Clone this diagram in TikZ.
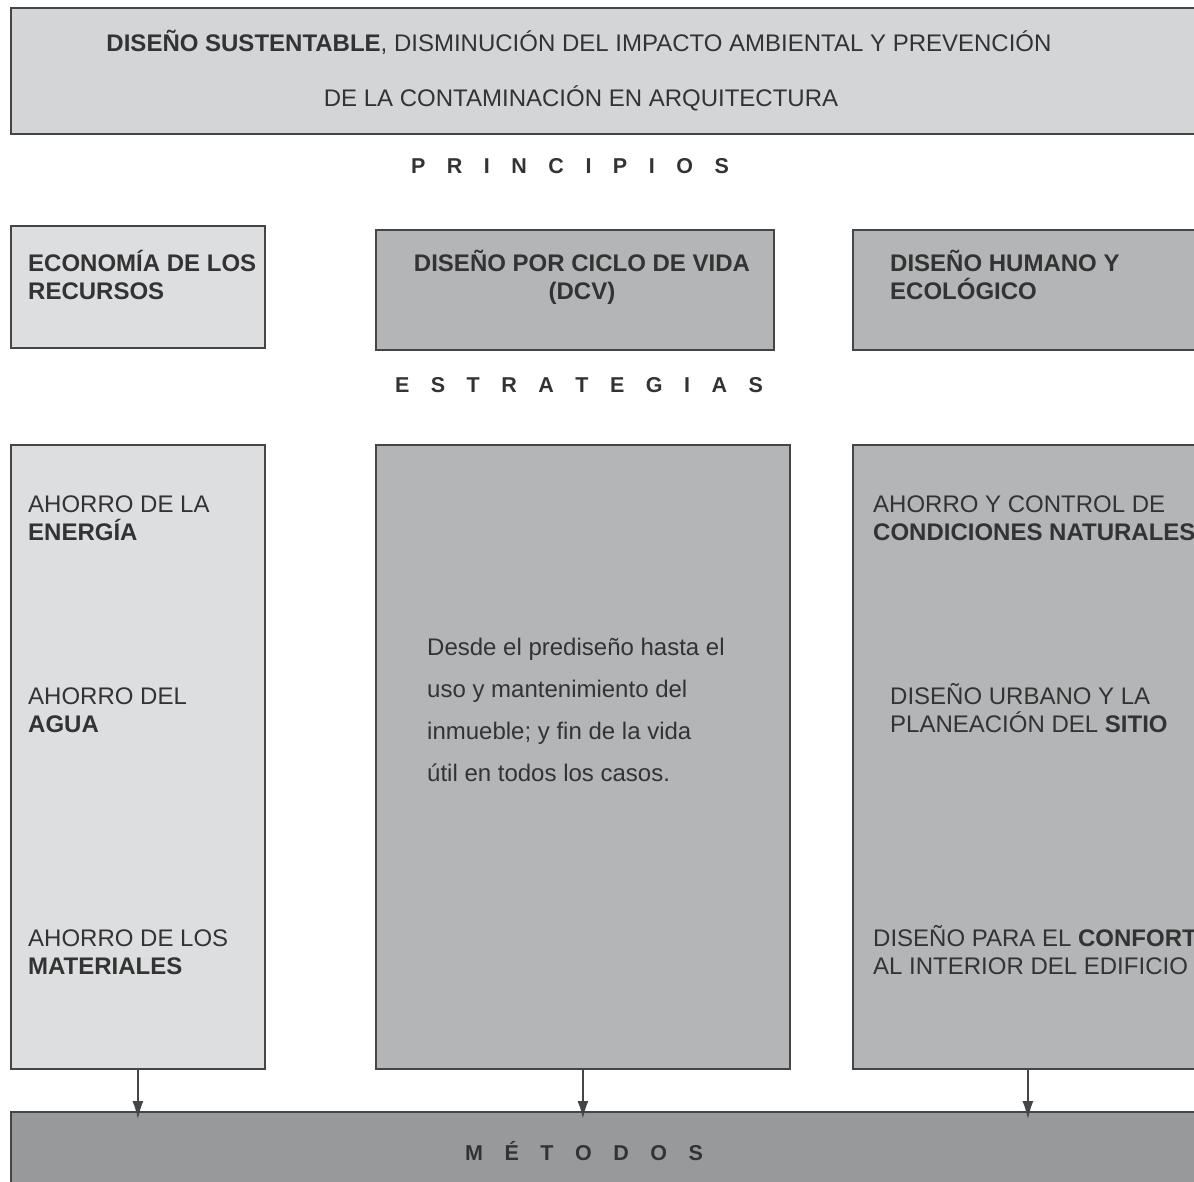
\documentclass[tikz,border=0pt]{standalone}
\usepackage{fontspec}
\setmainfont{Liberation Sans}
\usetikzlibrary{arrows.meta}
\definecolor{txt}{HTML}{333333}
\definecolor{edge}{HTML}{454545}
\definecolor{fillA}{HTML}{D4D5D7}
\definecolor{fillB}{HTML}{DDDEE0}
\definecolor{fillC}{HTML}{B4B5B7}
\definecolor{fillD}{HTML}{97999B}
\newcommand{\gp}{\hspace{21.5pt}}
\begin{document}
\begin{tikzpicture}[x=1pt,y=-1pt,
  panel/.style={draw=edge, line width=1.8pt, anchor=north west, inner sep=0pt},
  tl/.style={anchor=base west, inner sep=0pt, text=txt, font=\fontsize{24}{28}\selectfont},
  tc/.style={anchor=base, inner sep=0pt, text=txt, font=\fontsize{24}{28}\selectfont},
  ttl/.style={anchor=base, inner sep=0pt, text=txt, font=\fontsize{24}{28}\selectfont},
  spaced/.style={anchor=base, inner sep=0pt, text=txt, font=\fontsize{21.5}{25}\selectfont\bfseries},
  desc/.style={anchor=base west, inner sep=0pt, text=txt, font=\fontsize{24}{28}\selectfont},
  flow/.style={-{Latex[length=18pt,width=11pt]}, draw=edge, line width=1.4pt}]
\useasboundingbox (0,0) rectangle (1194,1182);
\clip (0,0) rectangle (1194,1182);
% boxes
\node[panel, fill=fillA, minimum width=1190pt, minimum height=126pt] (top) at (10,7) {};
\node[panel, fill=fillB, minimum width=254pt, minimum height=122pt] (p1) at (10,225) {};
\node[panel, fill=fillC, minimum width=398pt, minimum height=120pt] (p2) at (375,229) {};
\node[panel, fill=fillC, minimum width=350pt, minimum height=120pt] (p3) at (852,229) {};
\node[panel, fill=fillB, minimum width=254pt, minimum height=624pt] (s1) at (10,444) {};
\node[panel, fill=fillC, minimum width=414pt, minimum height=624pt] (s2) at (375,444) {};
\node[panel, fill=fillC, minimum width=350pt, minimum height=624pt] (s3) at (852,444) {};
\node[panel, fill=fillD, minimum width=1190pt, minimum height=90pt] (met) at (10,1111) {};
% title
\node[ttl] (t1) at (579,52) {\textbf{DISEÑO SUSTENTABLE}, DISMINUCIÓN DEL IMPACTO AMBIENTAL Y PREVENCIÓN};
\node[ttl] (t2) at (581,107) {DE LA CONTAMINACIÓN EN ARQUITECTURA};
% headings
\node[spaced] (hp) at (570,174) {P\gp R\gp I\gp N\gp C\gp I\gp P\gp I\gp O\gp S};
\node[spaced] (he) at (579,392) {E\gp S\gp T\gp R\gp A\gp T\gp E\gp G\gp I\gp A\gp S};
\node[spaced] (hm) at (584,1160) {M\gp É\gp T\gp O\gp D\gp O\gp S};
% principles
\node[tl] (a1) at (28,272) {\textbf{ECONOMÍA DE LOS}};
\node[tl] (a2) at (28,300) {\textbf{RECURSOS}};
\node[tc] (b1) at (582,272) {\textbf{DISEÑO POR CICLO DE VIDA}};
\node[tc] (b2) at (582,300) {\textbf{(DCV)}};
\node[tl] (c1) at (890,272) {\textbf{DISEÑO HUMANO Y}};
\node[tl] (c2) at (890,300) {\textbf{ECOLÓGICO}};
% strategies left
\node[tl] (d1) at (28,512) {AHORRO DE LA};
\node[tl] (d2) at (28,540) {\textbf{ENERGÍA}};
\node[tl] (d3) at (28,704) {AHORRO DEL};
\node[tl] (d4) at (28,732) {\textbf{AGUA}};
\node[tl] (d5) at (28,946) {AHORRO DE LOS};
\node[tl] (d6) at (28,974) {\textbf{MATERIALES}};
% strategies middle
\node[desc] (e1) at (427,655) {Desde el prediseño hasta el};
\node[desc] (e2) at (427,697) {uso y mantenimiento del};
\node[desc] (e3) at (427,739) {inmueble; y fin de la vida};
\node[desc] (e4) at (427,781) {útil en todos los casos.};
% strategies right
\node[tl] (f1) at (873,512) {AHORRO Y CONTROL DE};
\node[tl] (f2) at (873,540) {\textbf{CONDICIONES NATURALES}};
\node[tl] (f3) at (890,704) {DISEÑO URBANO Y LA};
\node[tl] (f4) at (890,732) {PLANEACIÓN DEL \textbf{SITIO}};
\node[tl] (f5) at (873,946) {DISEÑO PARA EL \textbf{CONFORT}};
\node[tl] (f6) at (873,974) {AL INTERIOR DEL EDIFICIO};
% arrows
\draw[flow] (s1.south) -- ([yshift=-8pt]s1.south |- met.north);
\draw[flow, line width=2.4pt] (s2.south) -- ([yshift=-8pt]s2.south |- met.north);
\draw[flow] (s3.south) -- ([yshift=-8pt]s3.south |- met.north);
\end{tikzpicture}
\end{document}
